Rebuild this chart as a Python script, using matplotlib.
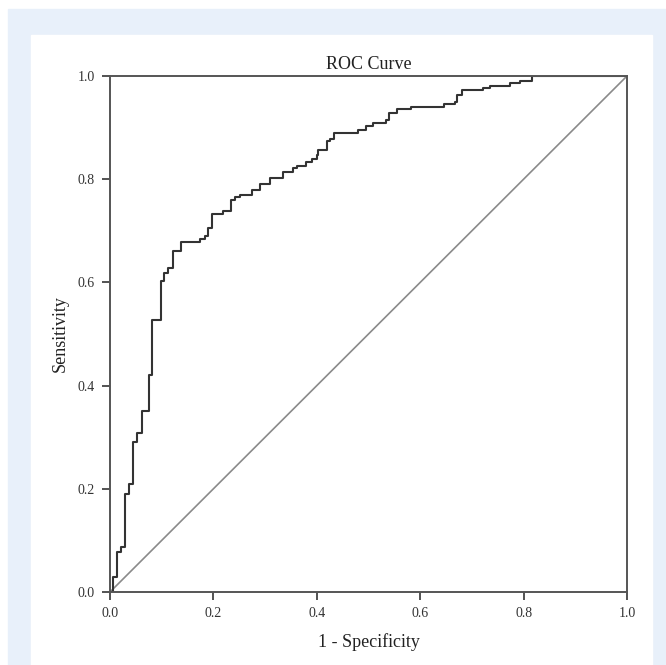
import matplotlib
matplotlib.use("Agg")
import matplotlib.pyplot as plt
from matplotlib.patches import Rectangle

# ROC step corners (horizontal, then vertical)
fpr = [0.0, 0.006, 0.0135, 0.021, 0.029, 0.037, 0.045, 0.053, 0.061, 0.075,
       0.082, 0.098, 0.105, 0.113, 0.121, 0.137, 0.174, 0.184, 0.190, 0.197,
       0.219, 0.235, 0.242, 0.251, 0.274, 0.290, 0.309, 0.334, 0.353, 0.361,
       0.379, 0.390, 0.400, 0.403, 0.419, 0.426, 0.433, 0.480, 0.495, 0.509,
       0.534, 0.540, 0.555, 0.582, 0.646, 0.667, 0.671, 0.680, 0.722, 0.735,
       0.774, 0.793, 0.816, 1.0]
tpr = [0.0, 0.030, 0.078, 0.087, 0.190, 0.209, 0.291, 0.309, 0.351, 0.420,
       0.528, 0.603, 0.618, 0.628, 0.661, 0.679, 0.684, 0.690, 0.705, 0.733,
       0.739, 0.760, 0.766, 0.769, 0.780, 0.791, 0.802, 0.814, 0.821, 0.825,
       0.834, 0.840, 0.847, 0.856, 0.874, 0.878, 0.889, 0.896, 0.903, 0.909,
       0.915, 0.928, 0.936, 0.940, 0.946, 0.950, 0.963, 0.973, 0.976, 0.981,
       0.986, 0.990, 1.0, 1.0]
ticks = [0.0, 0.2, 0.4, 0.6, 0.8, 1.0]
tick_labels = ["0.0", "0.2", "0.4", "0.6", "0.8", "1.0"]

plt.rcParams["font.family"] = ["Liberation Serif", "DejaVu Serif"]

W, H = 666, 665
fig = plt.figure(figsize=(W / 100, H / 100), dpi=100, facecolor="white")

# page background: light blue frame with a white panel
fig.patches.append(Rectangle((8 / W, 0), 1 - 8 / W, 1 - 9 / H,
                             transform=fig.transFigure, color="#e8f0fa", zorder=-2))
fig.patches.append(Rectangle((31 / W, 0), (652 - 31) / W, (665 - 35) / H,
                             transform=fig.transFigure, color="white", zorder=-1))

ax = fig.add_axes([110 / W, (H - 592) / H, 517 / W, 516 / H])
ax.set_facecolor("white")

ax.plot([0, 1], [0, 1], color="#8a8a8a", lw=1.2)
ax.step(fpr, tpr, where="post", color="#333333", lw=1.5)

ax.set_xlim(0, 1)
ax.set_ylim(0, 1)
ax.set_xticks(ticks)
ax.set_xticklabels(tick_labels)
ax.set_yticks(ticks)
ax.set_yticklabels(tick_labels)
ax.tick_params(direction="out", length=6, width=1.3, color="#444444",
               labelsize=10, labelcolor="#333333", pad=5)
for s in ax.spines.values():
    s.set_color("#555555")
    s.set_linewidth(1.4)

ax.set_title("ROC Curve", fontsize=13, color="#222222", pad=5)
ax.set_xlabel("1 - Specificity", fontsize=13, color="#222222", labelpad=9)
ax.set_ylabel("Sensitivity", fontsize=13, color="#222222", labelpad=6)

fig.savefig("out.png", dpi=100, facecolor=fig.get_facecolor())
